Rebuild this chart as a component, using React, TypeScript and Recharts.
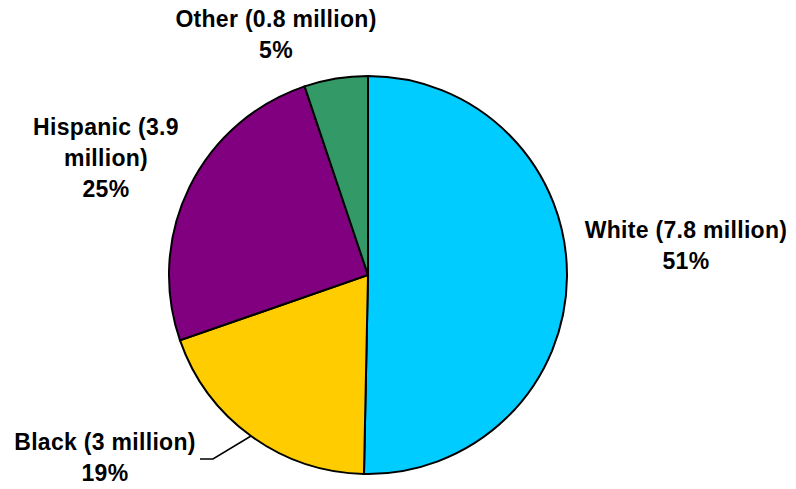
import { PieChart, Pie, Cell } from "recharts";

const groups = ["White", "Black", "Hispanic", "Other"];
const millions = [7.8, 3, 3.9, 0.8];
const shares = [51, 19, 25, 5];
const colors = ["#00CCFF", "#FFCC00", "#800080", "#339966"];

// label text lines per slice (Hispanic wraps in the original)
const labelLines = [
  ["White (7.8 million)", "51%"],
  ["Black (3 million)", "19%"],
  ["Hispanic (3.9", "million)", "25%"],
  ["Other (0.8 million)", "5%"],
];

// where each label sits, relative to the pie centre
const labelLayout = [
  { dx: 318, dy: -37 },
  { dx: -263, dy: 175, leader: [{ dx: -155, dy: 184 }, { dx: -168, dy: 184 }] },
  { dx: -262, dy: -140 },
  { dx: -92, dy: -248 },
];

const data = groups.map((g, i) => ({ name: g, value: millions[i], pct: shares[i] }));

const RAD = Math.PI / 180;
const LINE_H = 31;

const renderLabel = (props: any) => {
  const { cx, cy, midAngle, outerRadius, index } = props;
  const lay = labelLayout[index];
  const lines = labelLines[index];
  const x = cx + lay.dx;
  const y = cy + lay.dy;
  let leader = null;
  if (lay.leader) {
    const sx = cx + outerRadius * Math.cos(-midAngle * RAD);
    const sy = cy + outerRadius * Math.sin(-midAngle * RAD);
    const pts = [[sx, sy], ...lay.leader.map((p) => [cx + p.dx, cy + p.dy])];
    leader = (
      <polyline
        points={pts.map((p) => p.join(",")).join(" ")}
        fill="none"
        stroke="#000"
        strokeWidth={1.5}
      />
    );
  }
  return (
    <g key={`lbl-${index}`}>
      {leader}
      <text
        x={x}
        y={y}
        textAnchor="middle"
        fill="#000"
        fontFamily="'Liberation Sans', Arial, sans-serif"
        fontWeight="bold"
        fontSize={23}
        letterSpacing={0.3}
      >
        {lines.map((l, i) => (
          <tspan key={i} x={x} y={y + i * LINE_H}>
            {l}
          </tspan>
        ))}
      </text>
    </g>
  );
};

export default function App() {
  return (
    <div style={{ position: "absolute", left: 0, top: 0, background: "#fff" }}>
      <PieChart width={796} height={489} margin={{ top: 0, right: 0, bottom: 0, left: 0 }}>
        <Pie
          data={data}
          dataKey="value"
          nameKey="name"
          cx={368}
          cy={275}
          outerRadius={199}
          startAngle={90}
          endAngle={-270}
          stroke="#000"
          strokeWidth={2}
          label={renderLabel}
          labelLine={false}
          isAnimationActive={false}
        >
          {data.map((d, i) => (
            <Cell key={d.name} fill={colors[i]} />
          ))}
        </Pie>
      </PieChart>
    </div>
  );
}
